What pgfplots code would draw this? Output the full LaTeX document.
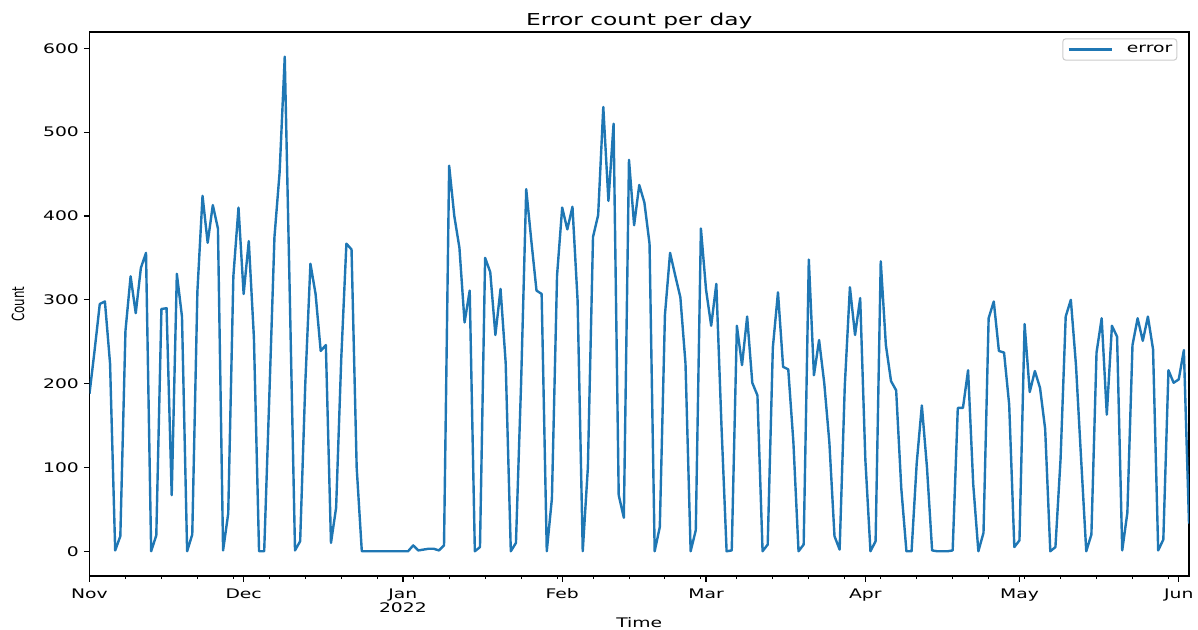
\documentclass[border=0pt]{standalone}
\usepackage{pgfplots}
\pgfplotsset{compat=1.18}
\usepackage{fontspec}
\setmainfont{DejaVu Sans}[FakeStretch=1.42]
\newfontfamily\rawfont{DejaVu Sans}
\definecolor{mplblue}{HTML}{1F77B4}
\newcommand\tickfont{\fontsize{6.6}{7}\selectfont}
\newcommand\titlefont{\fontsize{8.2}{9.8}\selectfont}
\begin{document}
\begin{tikzpicture}
\path[use as bounding box] (-44.75pt,-27pt) rectangle (554.25pt,288pt);
\begin{axis}[
  at={(0,0)}, anchor=south west,
  scale only axis, width=549.75pt, height=272pt,
  xmin=0, xmax=214, ymin=-29.5, ymax=619.5,
  axis line style={black, line width=0.6pt},
  tick align=outside, tick pos=left,
  major tick length=2.8pt, minor tick length=1.6pt,
  every major tick/.append style={black, line width=0.6pt},
  every minor tick/.append style={black, line width=0.45pt},
  xtick={0,30,61,92,120,151,181,212},
  xticklabels={Nov,Dec,{Jan\\2022},Feb,Mar,Apr,May,Jun},
  minor xtick={7,14,...,210},
  ytick={0,100,200,300,400,500,600},
  /pgf/number format/assume math mode=true,
  xticklabel style={font=\tickfont, align=center, anchor=north, inner sep=0pt, yshift=-3.35pt},
  yticklabel style={font=\tickfont, anchor=east, inner sep=0pt, xshift=-2.3pt},
  title={Error count per day},
  every axis title shift=0pt,
  title style={at={(axis description cs:0.5,1)}, anchor=base, yshift=3pt, font=\titlefont, inner sep=0pt},
  xlabel={Time},
  xlabel style={at={(axis description cs:0.5,0)}, anchor=base, yshift=-26pt, font=\tickfont, inner sep=0pt},
  ylabel={\rawfont\fontsize{5.9}{7}\selectfont\scalebox{1}[1.42]{Count}},
  ylabel style={at={(axis description cs:0,0.5)}, anchor=center, rotate=0, yshift=35.75pt, inner sep=0pt},
  legend style={at={(1,1)}, anchor=north east, xshift=-5.85pt, yshift=-3.15pt,
    draw=black!20, line width=0.5pt, rounded corners=1.5pt, fill=white, fill opacity=0.8, text opacity=1,
    inner xsep=2.3pt, inner ysep=2.3pt, font=\tickfont, column sep=7pt,
    nodes={inner sep=0pt, text height=4.8pt, text depth=1.3pt}},
  legend cell align=left,
  legend image code/.code={\draw[#1] (0pt,0pt) -- (21.5pt,0pt);},
]
\addplot[mplblue, line width=1.2pt, line join=round] table[x=d, y=v] {
d v
0 188
1 240
2 295
3 298
4 224
5 1
6 18
7 263
8 328
9 284
10 338
11 356
12 0
13 19
14 289
15 290
16 67
17 331
18 280
19 0
20 20
21 310
22 424
23 368
24 413
25 385
26 1
27 45
28 328
29 410
30 307
31 370
32 255
33 0
34 0
35 185
36 375
37 452
38 590
39 300
40 1
41 12
42 200
43 343
44 307
45 239
46 246
47 10
48 52
49 230
50 367
51 360
52 100
53 0
54 0
55 0
56 0
57 0
58 0
59 0
60 0
61 0
62 0
63 7
64 1
65 2
66 3
67 3
68 1
69 7
70 460
71 400
72 362
73 273
74 311
75 0
76 5
77 350
78 333
79 258
80 313
81 225
82 0
83 10
84 200
85 432
86 370
87 311
88 307
89 0
90 63
91 329
92 410
93 384
94 411
95 299
96 0
97 100
98 375
99 401
100 530
101 418
102 510
103 67
104 40
105 467
106 389
107 437
108 416
109 367
110 0
111 29
112 282
113 356
114 329
115 303
116 224
117 0
118 25
119 385
120 312
121 269
122 319
123 150
124 0
125 1
126 269
127 222
128 280
129 201
130 186
131 0
132 8
133 243
134 309
135 220
136 217
137 130
138 0
139 8
140 348
141 210
142 252
143 201
144 130
145 18
146 2
147 197
148 315
149 258
150 302
151 110
152 0
153 12
154 346
155 246
156 203
157 192
158 75
159 0
160 0
161 105
162 174
163 100
164 1
165 0
166 0
167 0
168 1
169 171
170 171
171 216
172 80
173 0
174 22
175 278
176 298
177 239
178 237
179 175
180 5
181 13
182 271
183 190
184 215
185 195
186 146
187 0
188 5
189 110
190 280
191 300
192 222
193 110
194 0
195 20
196 237
197 278
198 163
199 269
200 256
201 1
202 46
203 246
204 278
205 251
206 280
207 241
208 1
209 14
210 216
211 201
212 205
213 240
214 33
};
\addlegendentry{error}
\end{axis}
\end{tikzpicture}
\end{document}
